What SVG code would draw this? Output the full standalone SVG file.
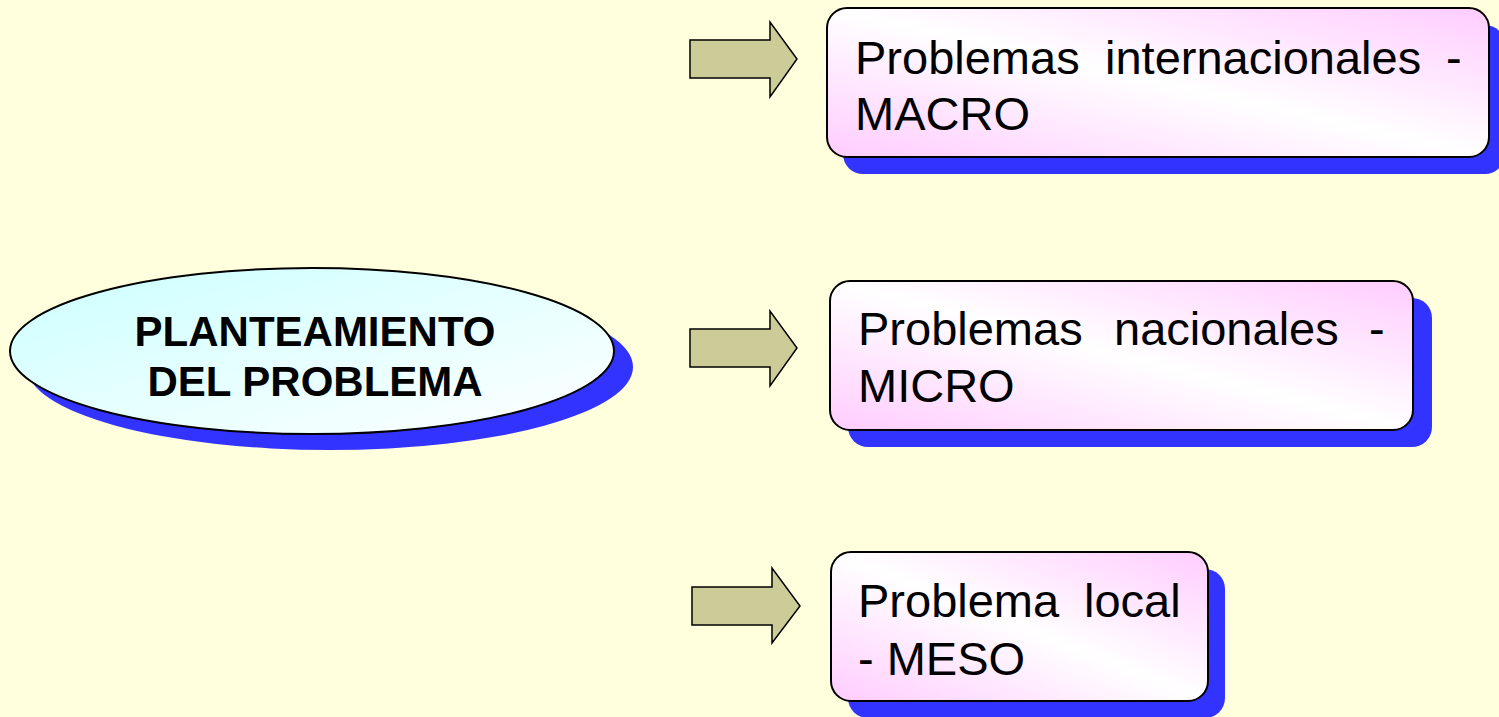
<svg xmlns="http://www.w3.org/2000/svg" width="1499" height="717" viewBox="0 0 1499 717">
<defs>
<linearGradient id="gBox" x1="0" y1="1" x2="1" y2="0">
<stop offset="0" stop-color="#FFCCFF"/>
<stop offset="0.5" stop-color="#FFFFFF"/>
<stop offset="1" stop-color="#FFCCFF"/>
</linearGradient>
<linearGradient id="gEll" x1="0" y1="0" x2="1" y2="1">
<stop offset="0" stop-color="#CCFFFF"/>
<stop offset="1" stop-color="#FFFFFF"/>
</linearGradient>
</defs>
<style>
.shadow{fill:#3333FF}
.box{fill:url(#gBox);stroke:#000;stroke-width:2}
.ell{fill:url(#gEll);stroke:#000;stroke-width:2}
.arrow{fill:#CCCC99;stroke:#000;stroke-width:1.5;stroke-linejoin:miter}
.t{font-family:"Liberation Sans",Arial,sans-serif;font-size:47px;fill:#000}
.tb{font-family:"Liberation Sans",Arial,sans-serif;font-size:42px;font-weight:bold;fill:#000;text-anchor:middle}
</style>
<rect width="1499" height="717" fill="#FFFFDD"/>

<g id="planteamiento">
<ellipse class="shadow" cx="330" cy="367" rx="303" ry="83"/>
<ellipse class="ell" cx="312" cy="351" rx="302" ry="83"/>
<text class="tb" x="315" y="346">PLANTEAMIENTO</text>
<text class="tb" x="315" y="396">DEL PROBLEMA</text>
</g>

<g id="connectors">
<path class="arrow" d="M690,40 H770 V22 L797,59 L770,97 V78 H690 Z"/>
<path class="arrow" d="M690,329 H770 V311 L797,348 L770,386 V367 H690 Z"/>
<path class="arrow" d="M692,587 H772 V568 L800,606 L772,643 V625 H692 Z"/>
</g>

<g id="macro">
<rect class="shadow" x="843" y="25" width="662" height="149" rx="20"/>
<rect class="box" x="827" y="8" width="662" height="149" rx="20"/>
<text class="t" y="74"><tspan x="855">Problemas</tspan><tspan x="1105">internacionales</tspan><tspan x="1446">-</tspan></text>
<text class="t" x="855" y="130">MACRO</text>
</g>

<g id="micro">
<rect class="shadow" x="848" y="298" width="584" height="149" rx="20"/>
<rect class="box" x="830" y="281" width="583" height="149" rx="20"/>
<text class="t" y="345"><tspan x="858">Problemas</tspan><tspan x="1114">nacionales</tspan><tspan x="1369">-</tspan></text>
<text class="t" x="858" y="402">MICRO</text>
</g>

<g id="meso">
<rect class="shadow" x="848" y="569" width="377" height="149" rx="20"/>
<rect class="box" x="831" y="552" width="377" height="149" rx="20"/>
<text class="t" y="617"><tspan x="858">Problema</tspan><tspan x="1084">local</tspan></text>
<text class="t" x="858" y="675">- MESO</text>
</g>
</svg>
